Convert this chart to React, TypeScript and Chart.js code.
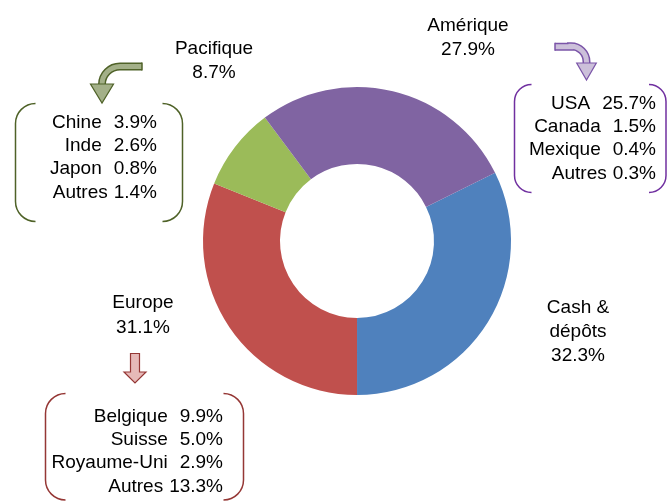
import React, { useEffect, useRef } from "react";
import { Chart, registerables } from "chart.js";

Chart.register(...registerables);

const categories = ["Cash & dépôts", "Europe", "Pacifique", "Amérique"];
const shares = [32.3, 31.1, 8.7, 27.9];
const sliceColors = ["#4F81BD", "#C0504D", "#9BBB59", "#8064A2"];

const ameriqueNames = ["USA", "Canada", "Mexique", "Autres"];
const ameriqueValues = [25.7, 1.5, 0.4, 0.3];
const pacifiqueNames = ["Chine", "Inde", "Japon", "Autres"];
const pacifiqueValues = [3.9, 2.6, 0.8, 1.4];
const europeNames = ["Belgique", "Suisse", "Royaume-Uni", "Autres"];
const europeValues = [9.9, 5.0, 2.9, 13.3];

const FONT = '19px "Liberation Sans", Arial, sans-serif';
const pct = (v: number) => v.toFixed(1) + "%";

function bracket(ctx: CanvasRenderingContext2D, x0: number, x1: number, y0: number, y1: number, r: number, color: string) {
  ctx.save();
  ctx.strokeStyle = color;
  ctx.lineWidth = 1.5;
  ctx.beginPath();
  ctx.moveTo(x0 + r, y0);
  ctx.arcTo(x0, y0, x0, y0 + r, r);
  ctx.lineTo(x0, y1 - r);
  ctx.arcTo(x0, y1, x0 + r, y1, r);
  ctx.moveTo(x1 - r, y0);
  ctx.arcTo(x1, y0, x1, y0 + r, r);
  ctx.lineTo(x1, y1 - r);
  ctx.arcTo(x1, y1, x1 - r, y1, r);
  ctx.stroke();
  ctx.restore();
}

function head(ctx: CanvasRenderingContext2D, xl: number, xr: number, yb: number, tipX: number, tipY: number, fill: string, stroke: string) {
  ctx.beginPath();
  ctx.moveTo(xl, yb);
  ctx.lineTo(xr, yb);
  ctx.lineTo(tipX, tipY);
  ctx.closePath();
  ctx.fillStyle = fill;
  ctx.fill();
  ctx.strokeStyle = stroke;
  ctx.lineWidth = 1.2;
  ctx.stroke();
}

function curvedArrow(
  ctx: CanvasRenderingContext2D,
  xStart: number, yBand: number, cx: number, cy: number, r: number, leftward: boolean,
  headHalf: number, headBase: number, tipY: number, fill: string, stroke: string
) {
  ctx.save();
  const xV = leftward ? cx - r : cx + r;
  const path = () => {
    ctx.beginPath();
    ctx.moveTo(xStart, yBand);
    ctx.lineTo(cx, yBand);
    if (leftward) ctx.arc(cx, cy, r, -Math.PI / 2, Math.PI, true);
    else ctx.arc(cx, cy, r, -Math.PI / 2, 0, false);
    ctx.lineTo(xV, headBase + 1);
  };
  ctx.lineCap = "butt";
  path();
  ctx.strokeStyle = stroke;
  ctx.lineWidth = 8;
  ctx.stroke();
  path();
  ctx.strokeStyle = fill;
  ctx.lineWidth = 5;
  ctx.stroke();
  ctx.beginPath();
  ctx.moveTo(xStart, yBand - 4);
  ctx.lineTo(xStart, yBand + 4);
  ctx.strokeStyle = stroke;
  ctx.lineWidth = 1.5;
  ctx.stroke();
  head(ctx, xV - headHalf, xV + headHalf, headBase, xV, tipY, fill, stroke);
  ctx.restore();
}

function breakdown(ctx: CanvasRenderingContext2D, names: string[], values: number[], xRight: number, y0: number, step: number) {
  names.forEach((n, i) => {
    const y = y0 + i * step;
    const p = pct(values[i]);
    ctx.textAlign = "right";
    ctx.fillText(p, xRight, y);
    const w = ctx.measureText(p).width;
    const gap = n === "Autres" ? 6 : 12;
    ctx.fillText(n, xRight - w - gap, y);
  });
}

const annotations = {
  id: "annotations",
  afterDraw(chart: any) {
    const ctx: CanvasRenderingContext2D = chart.ctx;
    ctx.save();
    ctx.font = FONT;
    ctx.fillStyle = "#000";
    ctx.textBaseline = "alphabetic";
    ctx.textAlign = "center";
    ctx.fillText(categories[3], 468, 31);
    ctx.fillText(pct(shares[3]), 468, 55);
    ctx.fillText(categories[2], 214, 54);
    ctx.fillText(pct(shares[2]), 214, 78);
    ctx.fillText(categories[1], 143, 308);
    ctx.fillText(pct(shares[1]), 143, 333);
    const [c1, c2] = ["Cash &", "dépôts"];
    ctx.fillText(c1, 578, 313);
    ctx.fillText(c2, 578, 337);
    ctx.fillText(pct(shares[0]), 578, 361);

    breakdown(ctx, pacifiqueNames, pacifiqueValues, 157, 127.5, 23.4);
    breakdown(ctx, ameriqueNames, ameriqueValues, 656, 109, 23.2);
    breakdown(ctx, europeNames, europeValues, 223, 421.7, 23.3);

    bracket(ctx, 15.5, 182.5, 103.5, 221.5, 20, "#4F6228");
    bracket(ctx, 514.5, 666, 84.5, 192.5, 17, "#7030A0");
    bracket(ctx, 45.5, 243.5, 393.5, 500, 20, "#953735");

    curvedArrow(ctx, 142, 66.5, 120, 84.5, 18, true, 11.5, 84, 103, "#A3B088", "#4F6228");
    curvedArrow(ctx, 555, 46.7, 571, 61.7, 15.5, false, 9.8, 63, 80, "#CCC0DA", "#7B55A8");
    ctx.beginPath();
    ctx.moveTo(130.5, 353.5);
    ctx.lineTo(139.5, 353.5);
    ctx.lineTo(139.5, 372);
    ctx.lineTo(146, 372);
    ctx.lineTo(135, 383);
    ctx.lineTo(124, 372);
    ctx.lineTo(130.5, 372);
    ctx.closePath();
    ctx.fillStyle = "#E6B9B8";
    ctx.fill();
    ctx.strokeStyle = "#953735";
    ctx.lineWidth = 1.2;
    ctx.stroke();
    ctx.restore();
  },
};

export default function App() {
  const ref = useRef<HTMLCanvasElement | null>(null);
  useEffect(() => {
    if (!ref.current) return;
    const chart = new Chart(ref.current, {
      type: "doughnut",
      data: {
        labels: categories,
        datasets: [
          {
            data: shares,
            backgroundColor: sliceColors,
            borderWidth: 0,
          },
        ],
      },
      options: {
        responsive: false,
        animation: false,
        rotation: 63.7,
        cutout: "50%",
        layout: { padding: { left: 203, right: 156, top: 87, bottom: 106 } },
        plugins: { legend: { display: false }, tooltip: { enabled: false } },
      },
      plugins: [annotations],
    });
    return () => chart.destroy();
  }, []);
  return (
    <div style={{ position: "absolute", left: 0, top: 0, width: 667, height: 501, background: "#fff" }}>
      <canvas ref={ref} width={667} height={501} />
    </div>
  );
}
